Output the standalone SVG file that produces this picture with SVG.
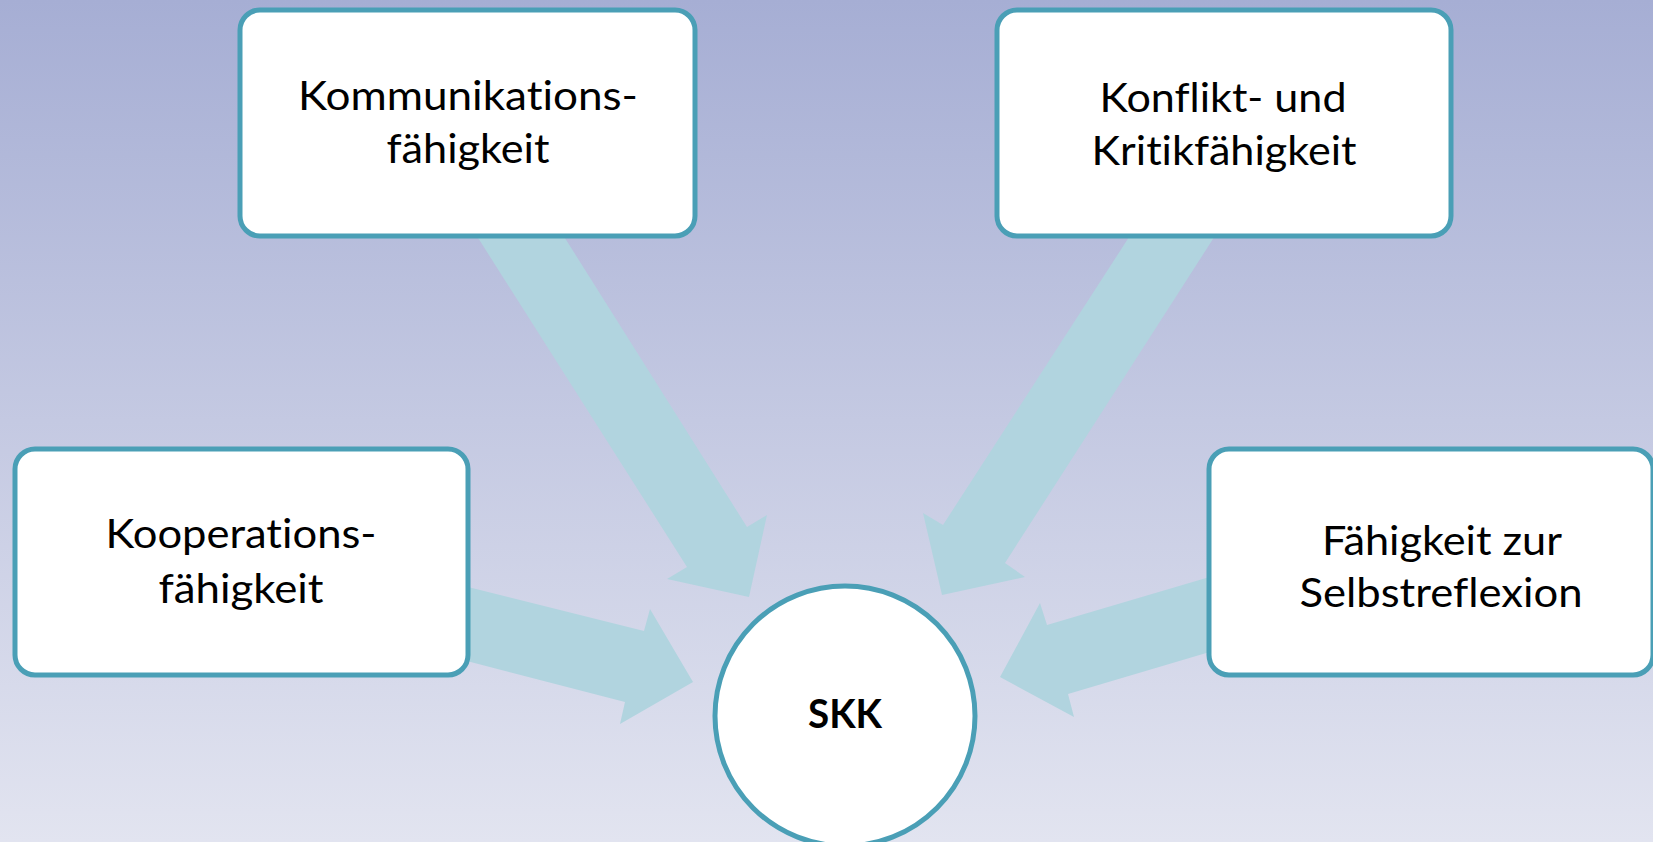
<svg xmlns="http://www.w3.org/2000/svg" width="1653" height="842" viewBox="0 0 1653 842">
<style>
.box{fill:#ffffff;stroke:#4a9fb6;stroke-width:5}
.arrow{fill:#b1d4df}
.lbl{font-family:Lato,"Open Sans","Noto Sans",sans-serif;font-size:40px;fill:#000;text-anchor:middle;font-variant-ligatures:none;font-feature-settings:"liga" 0,"clig" 0}
.bold{font-weight:bold}
</style>
<defs>
<linearGradient id="bg" x1="0" y1="0" x2="0" y2="1">
<stop offset="0" stop-color="#a6aed4"/>
<stop offset="1" stop-color="#e2e4f0"/>
</linearGradient>
</defs>
<rect x="0" y="0" width="1653" height="842" fill="url(#bg)"/>
<g id="connectors">
<polygon class="arrow" points="454,200 541,200 747,527 767,515 749,597 667,579 687,567"/>
<polygon class="arrow" points="1153,200 1238,200 1005,563 1025,577 942,595 923,513 943,525"/>
<polygon class="arrow" points="440,580 644,631 650,609 693,682 620,724 625,702 440,654"/>
<polygon class="arrow" points="1240,568 1047,625 1040,603 1000,677 1074,717 1068,694 1240,643"/>
</g>
<g id="n-kommunikation">
<rect class="box" x="240" y="10" width="455" height="226" rx="20"/>
<text class="lbl" x="468" y="110" textLength="340" lengthAdjust="spacingAndGlyphs">Kommunikations-</text>
<text class="lbl" x="468" y="163" textLength="163" lengthAdjust="spacingAndGlyphs">fähigkeit</text>
</g>
<g id="n-konflikt">
<rect class="box" x="997" y="10" width="454" height="226" rx="20"/>
<text class="lbl" x="1223" y="112" textLength="247" lengthAdjust="spacingAndGlyphs">Konflikt- und</text>
<text class="lbl" x="1224" y="165" textLength="265" lengthAdjust="spacingAndGlyphs">Kritikfähigkeit</text>
</g>
<g id="n-kooperation">
<rect class="box" x="15" y="449" width="453" height="226" rx="20"/>
<text class="lbl" x="241" y="548" textLength="271" lengthAdjust="spacingAndGlyphs">Kooperations-</text>
<text class="lbl" x="241" y="603" textLength="165" lengthAdjust="spacingAndGlyphs">fähigkeit</text>
</g>
<g id="n-selbstreflexion">
<rect class="box" x="1209" y="449" width="444" height="226" rx="20"/>
<text class="lbl" x="1442" y="555" textLength="240" lengthAdjust="spacingAndGlyphs">Fähigkeit zur</text>
<text class="lbl" x="1441" y="607" textLength="283" lengthAdjust="spacingAndGlyphs">Selbstreflexion</text>
</g>
<g id="n-skk">
<circle class="box" cx="845" cy="716" r="130"/>
<text class="lbl bold" x="845" y="728" textLength="74" lengthAdjust="spacingAndGlyphs">SKK</text>
</g>
</svg>
